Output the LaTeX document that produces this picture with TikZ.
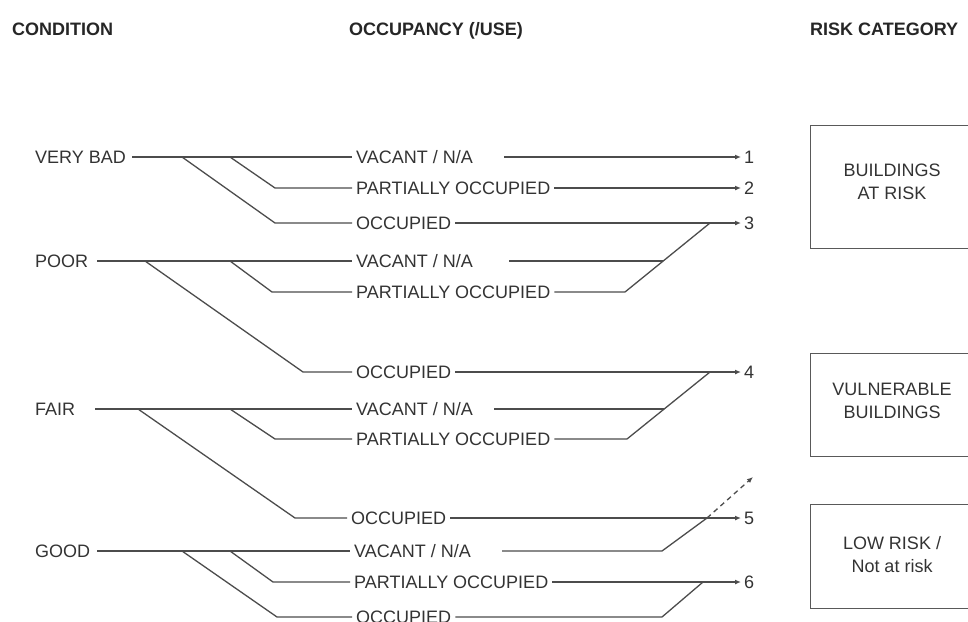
\documentclass[tikz,border=0pt]{standalone}
\usepackage{fontspec}
\setmainfont{Liberation Sans}
\usetikzlibrary{arrows.meta}
\begin{document}
\begin{tikzpicture}[x=1pt,y=-1pt,
  txt/.style={font=\fontsize{18}{23}\selectfont, text=black!80, inner xsep=4pt, inner ysep=0pt, text height=13pt, text depth=0pt, anchor=west},
  hdr/.style={font=\fontsize{18}{23}\selectfont\bfseries, text=black!85, inner sep=0pt, text height=13pt, text depth=0pt, anchor=west},
  ln/.style={draw=black!70, line width=1.3pt},
  arr/.style={ln, -{Latex[length=6pt,width=5pt]}},
  dasharr/.style={arr, dash pattern=on 5pt off 4pt},
  riskbox/.style={draw=black!65, line width=1.3pt, anchor=north west, inner sep=0pt},
  boxtxt/.style={font=\fontsize{18}{23}\selectfont, text=black!80, align=center, inner sep=0pt},
  num/.style={txt, inner xsep=3pt}
]
\useasboundingbox (0,0) rectangle (968,621);
\clip (0,0) rectangle (968,621);

% headers
\node[hdr] (h1) at (12,29) {CONDITION};
\node[hdr] (h2) at (349,29) {OCCUPANCY (/USE)};
\node[hdr] (h3) at (810,29) {RISK CATEGORY};

% conditions
\node[txt] (vb) at (31,157) {VERY BAD};
\node[txt] (poor) at (31,261) {POOR};
\node[txt] (fair) at (31,409) {FAIR};
\node[txt] (good) at (31,551) {GOOD};

% occupancy
\node[txt] (vbv) at (352,157) {VACANT / N/A};
\node[txt] (vbp) at (352,188) {PARTIALLY OCCUPIED};
\node[txt] (vbo) at (352,223) {OCCUPIED};
\node[txt] (pv) at (352,261) {VACANT / N/A};
\node[txt] (pp) at (352,292) {PARTIALLY OCCUPIED};
\node[txt] (po) at (352,372) {OCCUPIED};
\node[txt] (fv) at (352,409) {VACANT / N/A};
\node[txt] (fp) at (352,439) {PARTIALLY OCCUPIED};
\node[txt] (fo) at (347,518) {OCCUPIED};
\node[txt] (gv) at (350,551) {VACANT / N/A};
\node[txt] (gp) at (350,582) {PARTIALLY OCCUPIED};
\node[txt] (go) at (352,617) {OCCUPIED};

% numbers
\node[num] (n1) at (741,157) {1};
\node[num] (n2) at (741,188) {2};
\node[num] (n3) at (741,223) {3};
\node[num] (n4) at (741,372) {4};
\node[num] (n5) at (741,518) {5};
\node[num] (n6) at (741,582) {6};

% risk boxes
\node[riskbox, minimum width=164pt, minimum height=123pt] (b1) at (810,125) {};
\node[riskbox, minimum width=164pt, minimum height=103pt] (b2) at (810,353) {};
\node[riskbox, minimum width=164pt, minimum height=104pt] (b3) at (810,504) {};
\node[boxtxt] (t1) at (892,182) {BUILDINGS\\AT RISK};
\node[boxtxt] (t2) at (892,401) {VULNERABLE\\BUILDINGS};
\node[boxtxt] (t3) at (892,555) {LOW RISK /\\Not at risk};

% branch coordinates
\coordinate (vbA) at (182,157); \coordinate (vbB) at (230,157);
\coordinate (vbP) at (275,188); \coordinate (vbO) at (275,223);
\coordinate (pA) at (145,261); \coordinate (pB) at (230,261);
\coordinate (pP) at (272,292); \coordinate (pO) at (303,372);
\coordinate (fA) at (138,409); \coordinate (fB) at (230,409);
\coordinate (fP) at (275,439); \coordinate (fO) at (295,518);
\coordinate (gA) at (182,551); \coordinate (gB) at (230,551);
\coordinate (gP) at (273,582); \coordinate (gO) at (277,617);

% condition -> occupancy
\draw[ln] ([xshift=2pt]vb.east) -- (vbv.west);
\draw[ln] (vbB) -- (vbP) -- (vbp.west);
\draw[ln] (vbA) -- (vbO) -- (vbo.west);
\draw[ln] ([xshift=5pt]poor.east) -- (pv.west);
\draw[ln] (pB) -- (pP) -- (pp.west);
\draw[ln] (pA) -- (pO) -- (po.west);
\draw[ln] ([xshift=16pt]fair.east) -- (fv.west);
\draw[ln] (fB) -- (fP) -- (fp.west);
\draw[ln] (fA) -- (fO) -- (fo.west);
\draw[ln] ([xshift=3pt]good.east) -- (gv.west);
\draw[ln] (gB) -- (gP) -- (gp.west);
\draw[ln] (gA) -- (gO) -- (go.west);

% collector coordinates
\coordinate (c3a) at (625,292); \coordinate (c3b) at (710,223); \coordinate (c3m) at (663,261);
\coordinate (c4a) at (627,439); \coordinate (c4b) at (710,372); \coordinate (c4m) at (664,409);
\coordinate (c5a) at (662,551); \coordinate (c5b) at (707,518); \coordinate (c5c) at (753,477);
\coordinate (c6a) at (662,617); \coordinate (c6b) at (703,582);

% occupancy -> categories
\draw[arr] ([xshift=27pt]vbv.east) -- (n1.west);
\draw[arr] (vbp.east) -- (n2.west);
\draw[arr] (vbo.east) -- (n3.west);
\draw[ln] (pp.east) -- (c3a) -- (c3b);
\draw[ln] ([xshift=32pt]pv.east) -- (c3m);
\draw[arr] (po.east) -- (n4.west);
\draw[ln] (fp.east) -- (c4a) -- (c4b);
\draw[ln] ([xshift=17pt]fv.east) -- (c4m);
\draw[arr] (fo.east) -- (n5.west);
\draw[ln] ([xshift=27pt]gv.east) -- (c5a) -- (c5b);
\draw[dasharr] (c5b) -- (c5c);
\draw[arr] (gp.east) -- (n6.west);
\draw[ln] (go.east) -- (c6a) -- (c6b);
\end{tikzpicture}
\end{document}
